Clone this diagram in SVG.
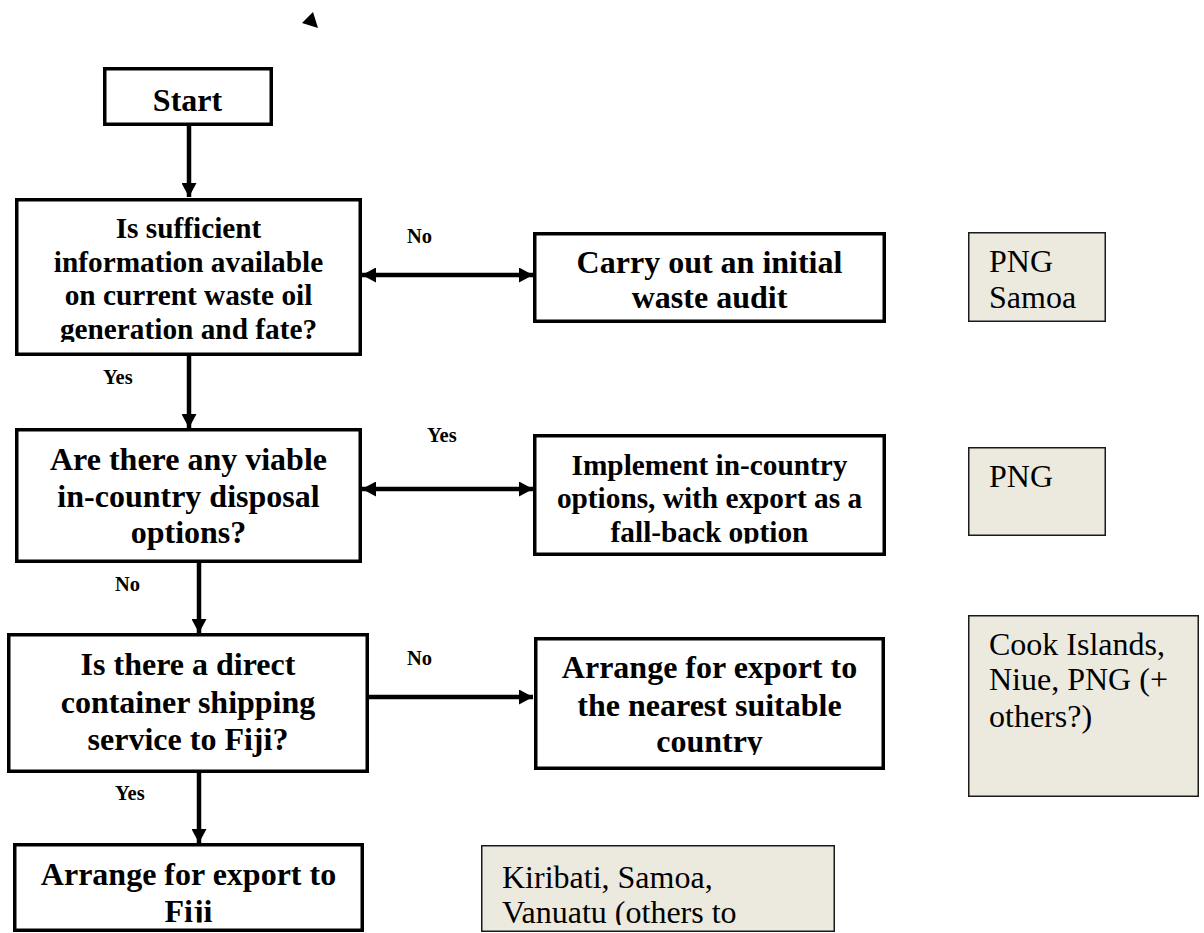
<svg xmlns="http://www.w3.org/2000/svg" width="1204" height="933" viewBox="0 0 1204 933">
<style>
.box{fill:#fff;stroke:#000;stroke-width:3.5}
.note{fill:#ECE9DF;stroke:#1a1a1a;stroke-width:1.5}
.t{font-family:"Liberation Serif","Times New Roman",serif;font-weight:bold;font-size:32px;fill:#000;text-anchor:middle}
.ts{font-size:29.3px}
.n{font-family:"Liberation Serif","Times New Roman",serif;font-size:32px;fill:#000}
.lb{font-family:"Liberation Serif","Times New Roman",serif;font-weight:bold;font-size:20.5px;fill:#000}
.c{fill:none;stroke:#000;stroke-width:4.5}
</style>
<defs>
<marker id="ah" viewBox="0 0 14 15" refX="14" refY="7.5" markerWidth="14" markerHeight="15" markerUnits="userSpaceOnUse" orient="auto-start-reverse">
<path d="M0,0 L14,7.5 L0,15 z" fill="#000"/>
</marker>
<clipPath id="c1"><rect x="18" y="201" width="340" height="141"/></clipPath>
<clipPath id="c2"><rect x="536" y="235" width="346" height="75"/></clipPath>
<clipPath id="c3"><rect x="536" y="437" width="346" height="106.5"/></clipPath>
<clipPath id="c4"><rect x="537" y="640" width="344" height="115"/></clipPath>
<clipPath id="c5"><rect x="16" y="846" width="344" height="76.5"/></clipPath>
<clipPath id="c6"><rect x="482" y="846" width="351" height="79"/></clipPath>
</defs>
<rect width="1204" height="933" fill="#fff"/>

<polygon points="313,12 302,23 318,28" fill="#000"/>

<g id="connectors">
<path class="c" d="M189,126 V197" marker-end="url(#ah)"/>
<path class="c" d="M362,275 H533" marker-start="url(#ah)" marker-end="url(#ah)"/>
<path class="c" d="M189,356 V428" marker-end="url(#ah)"/>
<path class="c" d="M362,489 H533" marker-start="url(#ah)" marker-end="url(#ah)"/>
<path class="c" d="M199,563 V633" marker-end="url(#ah)"/>
<path class="c" d="M369,697 H533" marker-end="url(#ah)"/>
<path class="c" d="M199,773 V843" marker-end="url(#ah)"/>
<text class="lb" x="407" y="243">No</text>
<text class="lb" x="103" y="384">Yes</text>
<text class="lb" x="427" y="442">Yes</text>
<text class="lb" x="115" y="591">No</text>
<text class="lb" x="407" y="665">No</text>
<text class="lb" x="115" y="800">Yes</text>
</g>

<g id="start">
<rect class="box" x="104.75" y="68.75" width="166.5" height="55.5"/>
<text class="t" x="187.5" y="111">Start</text>
</g>

<g id="q1">
<rect class="box" x="16.75" y="199.75" width="343.5" height="154.5"/>
<g clip-path="url(#c1)">
<text class="t ts" x="188.5" y="238">Is sufficient</text>
<text class="t ts" x="188.5" y="272">information available</text>
<text class="t ts" x="188.5" y="305">on current waste oil</text>
<text class="t ts" x="188.5" y="339">generation and fate?</text>
</g>
</g>

<g id="audit">
<rect class="box" x="534.75" y="233.75" width="349.5" height="87.5"/>
<g clip-path="url(#c2)">
<text class="t" x="709.5" y="273">Carry out an initial</text>
<text class="t" x="709.5" y="308">waste audit</text>
</g>
</g>

<g id="note1">
<rect class="note" x="968.75" y="232.75" width="136.5" height="88.5"/>
<text class="n" x="989" y="272">PNG</text>
<text class="n" x="989" y="308">Samoa</text>
</g>

<g id="q2">
<rect class="box" x="16.75" y="429.75" width="343.5" height="131.5"/>
<text class="t" x="188.5" y="470">Are there any viable</text>
<text class="t" x="188.5" y="507">in-country disposal</text>
<text class="t" x="188.5" y="543">options?</text>
</g>

<g id="implement">
<rect class="box" x="534.75" y="435.75" width="349.5" height="118.5"/>
<g clip-path="url(#c3)">
<text class="t ts" x="709.5" y="475">Implement in-country</text>
<text class="t ts" x="709.5" y="508">options, with export as a</text>
<text class="t ts" x="709.5" y="542">fall-back option</text>
</g>
</g>

<g id="note2">
<rect class="note" x="968.75" y="447.75" width="136.5" height="87.5"/>
<text class="n" x="989" y="487">PNG</text>
</g>

<g id="q3">
<rect class="box" x="8.75" y="634.75" width="358.5" height="136.5"/>
<text class="t" x="188" y="675">Is there a direct</text>
<text class="t" x="188" y="713">container shipping</text>
<text class="t" x="188" y="750">service to Fiji?</text>
</g>

<g id="nearest">
<rect class="box" x="535.75" y="638.75" width="347.5" height="129.5"/>
<g clip-path="url(#c4)">
<text class="t" x="709.5" y="678">Arrange for export to</text>
<text class="t" x="709.5" y="716">the nearest suitable</text>
<text class="t" x="709.5" y="752">country</text>
</g>
</g>

<g id="note3">
<rect class="note" x="968.75" y="615.75" width="229.5" height="180.5"/>
<text class="n" x="989" y="655">Cook Islands,</text>
<text class="n" x="989" y="690">Niue, PNG (+</text>
<text class="n" x="989" y="727">others?)</text>
</g>

<g id="fiji">
<rect class="box" x="14.75" y="844.75" width="347.5" height="85.5"/>
<g clip-path="url(#c5)">
<text class="t" x="188.5" y="885">Arrange for export to</text>
<text class="t" x="188.5" y="922">Fiji</text>
</g>
</g>

<g id="note4">
<rect class="note" x="481.75" y="845.75" width="352.5" height="85.5"/>
<g clip-path="url(#c6)">
<text class="n" x="502" y="888">Kiribati, Samoa,</text>
<text class="n" x="502" y="923">Vanuatu (others to</text>
</g>
</g>
</svg>
